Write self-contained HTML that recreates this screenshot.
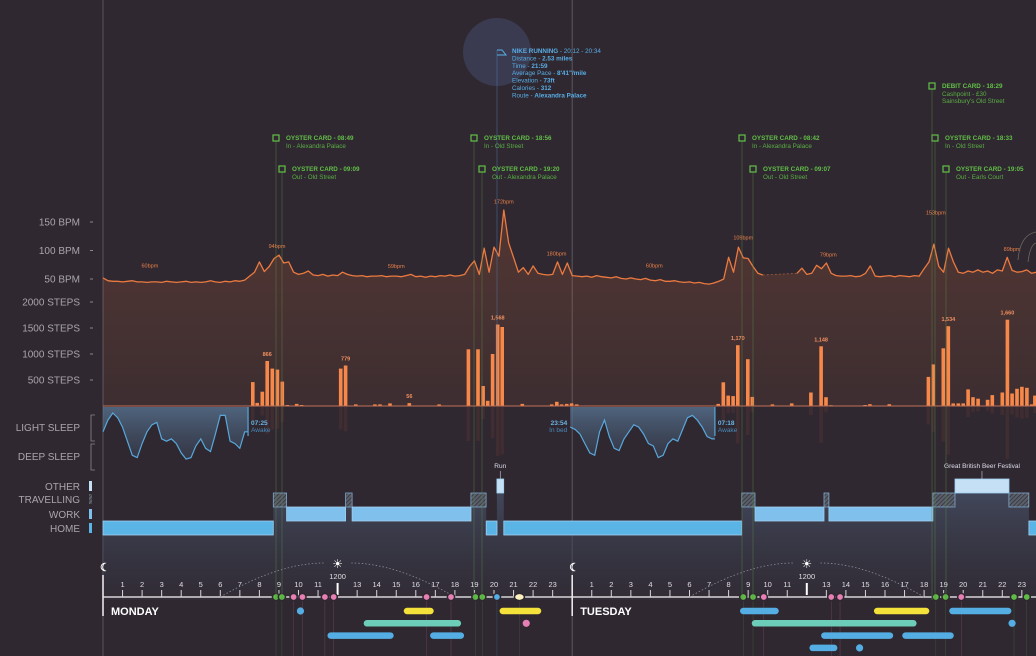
<!DOCTYPE html>
<html><head><meta charset="utf-8">
<style>
html,body{margin:0;padding:0;background:#2f2830;}
svg{display:block;font-family:"Liberation Sans Narrow","Liberation Sans",sans-serif;}
</style></head>
<body>
<svg id="c" width="1036" height="656" viewBox="0 0 1036 656">
<defs>
<linearGradient id="hrFill" x1="0" y1="0" x2="0" y2="1">
<stop offset="0" stop-color="#e0703c" stop-opacity="0.20"/>
<stop offset="1" stop-color="#e0703c" stop-opacity="0.08"/>
</linearGradient>
<linearGradient id="sleepFill" x1="0" y1="0" x2="0" y2="1">
<stop offset="0" stop-color="#5a7898" stop-opacity="0.75"/>
<stop offset="1" stop-color="#3c4a60" stop-opacity="0.45"/>
</linearGradient>
<linearGradient id="locFill" x1="0" y1="0" x2="0" y2="1">
<stop offset="0" stop-color="#465066" stop-opacity="0.9"/>
<stop offset="1" stop-color="#3a3b4c" stop-opacity="0.2"/>
</linearGradient>
<pattern id="hatch" width="3" height="3" patternUnits="userSpaceOnUse" patternTransform="rotate(45)">
<rect width="3" height="3" fill="#5a5f6a"/><line x1="0" y1="0" x2="0" y2="3" stroke="#2e2e36" stroke-width="1.4"/>
</pattern>
</defs>
<rect width="1036" height="656" fill="#2f2830"/>
<g id="left-axis" font-size="10" fill="#a9a5ab" text-anchor="end"></g>
<g id="plot"></g>
</svg>
<script>
// ---------- DATA ----------
const hrTicks = [150, 100, 50];
const stepTicks = [2000, 1500, 1000, 500];
// heart rate, quarter-hour bins from Monday 00:00 (null = no data)
const heartRate = [
52,47,46,46, 45,46,47,45, 45,44,45,45, 44,46,45,44, 45,46,44,45, 44,45,47,45, 44,46,45,47, 46,48,55,62,
80,63,72,86, 92,78,80,62, 58,60,64,57, 56,58,55,57, 56,62,58,56, 55,56,54,55, 55,56,54,55, 55,54,56,58,
54,55,53,55, 54,56,55,57, 55,56,58,72, 82,58,104,62, 106,90,171,113, 88,62,70,58, 73,60,58,57, 58,80,58,78,
56,55,54,55, 53,56,54,53, 52,54,51,50, 52,50,49,51, 48,47,49,46, 46,47,45,44, 45,43,44,42, 41,43,46,50,
88,62,106,87, 86,72,60,57, null,null,null,null, null,null,60,69, 58,60,74,68, 78,60,56,55, 55,56,54,55, 60,73,55,54,
55,56,54,56, 55,54,56,55, 68,80,111,72, 62,104,80,62, 60,64,62,66, 62,64,60,66, 64,88,65,62, 63,66,60,62
];
const hrLabels = [[2.4,'60bpm'],[8.9,'94bpm'],[15.0,'59bpm'],[20.5,'172bpm'],[23.2,'180bpm'],[28.2,'60bpm'],[32.75,'109bpm'],[37.1,'79bpm'],[42.6,'153bpm'],[46.5,'89bpm']];
const hrLabelVals = [60,94,59,172,81,60,109,79,153,89];
// steps: [hour, steps]
const steps = [
[7.66,460],[7.89,60],[8.15,275],[8.40,866],[8.66,720],[8.92,700],[9.17,470],[9.43,20],[9.91,40],[10.16,20],[10.68,10],
[12.16,720],[12.41,779],[12.93,30],[13.91,30],[14.17,30],[14.68,50],[15.67,56],[17.19,30],
[18.69,1090],[19.18,1090],[19.44,385],[19.68,100],[19.93,1000],[20.19,1568],[20.42,1520],[20.68,10],[21.45,40],
[22.95,30],[23.21,80],[23.46,30],[23.72,40],[23.97,50],[24.23,30],
[31.47,40],[31.73,455],[31.98,200],[32.23,190],[32.47,1170],[32.98,900],[33.21,175],[34.24,30],[35.23,50],[35.48,10],
[36.21,260],[36.73,1148],[36.98,170],[37.24,15],[38.98,20],[39.23,35],[40.22,35],
[42.22,560],[42.47,800],[42.98,1110],[43.24,1534],[43.49,50],[43.75,50],[44.0,50],[44.25,320],[44.5,170],[44.76,140],
[45.25,120],[45.49,210],[46.0,260],[46.26,1660],[46.5,240],[46.75,330],[47.0,370],[47.26,350],[47.5,30],[47.67,200]
];
const stepLabels = [[8.40,'866'],[12.41,'779'],[15.67,'56'],[20.19,'1,568'],[32.47,'1,170'],[36.73,'1,148'],[43.24,'1,534'],[46.26,'1,660']];
// sleep level 0 (deep) .. 100 (light), quarter-hour samples
const sleepMonStart = 0;
const sleepMon = [60,85,100,90,70,40,10,5,35,60,75,80,45,40,45,35,15,2,5,30,45,25,18,55,95,95,40,35,25,60];
const sleepMonEnd = 7.42;
const sleepTueStart = 23.9;
const sleepTue = [70,65,55,35,15,10,60,85,50,25,20,45,60,75,70,55,35,30,5,10,35,45,40,65,90,95,85,70,50,45];
const sleepTueEnd = 31.3;
// location segments [start, end, level] 0 home,1 work,2 travelling,3 other
const locSegments = [
[0,8.71,0],[8.71,9.39,2],[9.39,12.41,1],[12.41,12.74,2],[12.74,18.82,1],[18.82,19.6,2],[19.6,20.15,0],[20.15,20.5,3],[20.5,32.67,0],
[32.67,33.35,2],[33.35,36.88,1],[36.88,37.13,2],[37.13,42.45,1],[42.45,43.58,2],[43.58,46.34,3],[46.34,47.36,2],[47.36,48.2,0]
];
// timeline dots [hour, colour]
const dotHours = [8.85,9.15,9.75,10.2,11.35,11.8,16.55,17.8,19.05,19.4,20.15,21.3, 32.75,33.25,33.8,37.25,37.7,42.6,43.1,43.9,46.6,47.25];
const dotKinds = ['g','g','p','p','p','p','p','p','g','g','b','y', 'g','g','p','p','p','g','g','p','g','g'];
// activity bars [start, end, row, colour] (end==start -> dot)
const actStart = [10.1,15.55,20.45,13.5,21.65,11.65,16.9, 32.75,39.6,43.45,33.35,46.5,36.9,41.05,36.3,38.7];
const actEnd   = [10.1,16.75,22.25,18.15,21.65,14.7,18.3, 34.4,42.1,46.3,41.45,46.5,40.25,43.35,37.4,38.7];
const actRow   = [0,0,0,1,1,2,2, 0,0,0,1,1,2,2,3,3];
const actKind  = ['b','y','y','t','p','b','b', 'b','y','b','t','b','b','b','b','b'];
const hourTicks = [1,2,3,4,5,6,7,8,9,10,11,13,14,15,16,17,18,19,20,21,22,23];

// ---------- SCALES ----------
const X0 = 103, HW = 19.55;
const x = h => X0 + h*HW;
const yHR = b => 279 - (b-50)*0.57;
const yST = s => 406 - s*0.052;
const ySL = v => 460 - v*0.47;
const laneTop = [521,507,493,479];
const AXY = 597;
const col = {g:'#5dbb46',p:'#e77fb4',b:'#54aee4',y:'#f4e13a',t:'#6ccdb8'};

const svg = document.getElementById('c');
const plot = document.getElementById('plot');
const NS = 'http://www.w3.org/2000/svg';
function mk(tag, attrs, parent){const e=document.createElementNS(NS,tag);for(const k in attrs)e.setAttribute(k,attrs[k]);(parent||plot).appendChild(e);return e;}
function txt(s, attrs, parent){const e=mk('text',attrs,parent);e.textContent=s;return e;}

// ---------- LEFT AXIS ----------
const la = document.getElementById('left-axis');
hrTicks.forEach(b=>{
  const t=txt(b+' BPM',{x:80,y:yHR(b)+3.5},la);
  
  
  mk('line',{x1:90,x2:93,y1:yHR(b),y2:yHR(b),stroke:'#8a8590'},la);
});
stepTicks.forEach(s=>{
  const t=txt(s+' STEPS',{x:80,y:yST(s)+3.5},la);
  
  
  mk('line',{x1:90,x2:93,y1:yST(s),y2:yST(s),stroke:'#8a8590'},la);
});
[['LIGHT SLEEP',431],['DEEP SLEEP',460]].forEach(d=>{
  const t=txt(d[0],{x:80,y:d[1]},la);
  
  
});
mk('path',{d:'M95 415 H91 V441 H95 M95 444 H91 V470 H95',fill:'none',stroke:'#8a8590','stroke-width':0.8},la);
[['OTHER',490,'#c5e0f5'],['TRAVELLING',503,'url(#hatch)'],['WORK',518,'#7fc0ec'],['HOME',532,'#5ab4e6']].forEach((d,i)=>{
  const t=txt(d[0],{x:80,y:d[1]},la);
  
  
  const r=mk('rect',{x:89,y:d[1]-9,width:3,height:10,fill:d[2]},la);
  
  
});

// ---------- DAY LINES ----------
[0,24].forEach(h=>{
  const l=mk('line',{x1:x(h),x2:x(h),y1:0,y2:656,stroke:'#5a5560','stroke-width':1});
  
  
});

// ---------- HEART RATE ----------
function hrSegments(){
  const segs=[];let cur=[];
  heartRate.forEach((v,i)=>{ if(v===null){ if(cur.length){segs.push(cur);cur=[];} } else cur.push([x(i/4),yHR(v)]); });
  if(cur.length)segs.push(cur);
  return segs;
}
const segs = hrSegments();
const allPts = segs.flat();
let area = 'M'+allPts[0][0]+' '+yST(0)+' '+allPts.map(p=>'L'+p[0].toFixed(1)+' '+p[1].toFixed(1)).join(' ')+' L'+allPts[allPts.length-1][0]+' '+yST(0)+'Z';
const hrA = mk('path',{d:area,fill:'url(#hrFill)'});


segs.forEach((s,i)=>{
  const p=mk('path',{d:'M'+s.map(q=>q[0].toFixed(1)+' '+q[1].toFixed(1)).join(' L'),fill:'none',stroke:'#ec7a40','stroke-width':1.3,'stroke-linejoin':'round'});
  
  
  if(i<segs.length-1){
    const a=s[s.length-1],b=segs[i+1][0];
    const g=mk('line',{x1:a[0],y1:a[1],x2:b[0],y2:b[1],stroke:'#ec7a40','stroke-width':0.8,'stroke-dasharray':'2 2',opacity:0.6});
    
    
  }
});
hrLabels.forEach((d,i)=>{
  const t=txt(d[1],{x:x(d[0]),y:yHR(hrLabelVals[i])-6,'font-size':5.5,fill:'#e8804a','text-anchor':'middle'});
  
  
});

// ---------- STEPS ----------
steps.forEach(d=>{
  const r=mk('rect',{x:(x(d[0])-1.8).toFixed(1),y:yST(d[1]).toFixed(1),width:3.6,height:(yST(0)-yST(d[1])).toFixed(1),fill:'#f7884a'});
  
  
  if(d[1]>100){
    const rf=mk('rect',{x:(x(d[0])-1.8).toFixed(1),y:yST(0)+1,width:3.6,height:((yST(0)-yST(d[1]))*0.6).toFixed(1),fill:'#8a4a3a',opacity:0.18});
    
    
  }
});
const bl=mk('line',{x1:X0,x2:1036,y1:yST(0),y2:yST(0),stroke:'#c07058','stroke-width':1});


stepLabels.forEach(d=>{
  const v=steps.find(s=>s[0]===d[0]);
  const t=txt(d[1],{x:x(d[0]),y:yST(v?v[1]:0)-5,'font-size':5.5,fill:'#f09060','text-anchor':'middle','font-weight':'bold'});
  
  
});

// ---------- SLEEP ----------
function sleepPath(start, vals, end){
  const pts = vals.map((v,i)=>[x(start+i*0.25),ySL(v)]);
  pts.push([x(end),ySL(vals[vals.length-1])]);
  return pts;
}
[[sleepMonStart,sleepMon,sleepMonEnd],[sleepTueStart,sleepTue,sleepTueEnd]].forEach(s=>{
  const pts=sleepPath(s[0],s[1],s[2]);
  const line='M'+pts.map(p=>p[0].toFixed(1)+' '+p[1].toFixed(1)).join(' L');
  const bg=mk('path',{d:'M'+x(s[0])+' 407 L'+pts.map(p=>p[0].toFixed(1)+' '+p[1].toFixed(1)).join(' L')+' L'+x(s[2])+' 407 Z',fill:'url(#sleepFill)'});
  
  
  const l=mk('path',{d:line,fill:'none',stroke:'#58a8dc','stroke-width':1.2});
  
  
  const e=mk('line',{x1:x(s[2]),x2:x(s[2]),y1:407,y2:436,stroke:'#58a8dc','stroke-width':1.2});
  
  
});
[[sleepMonEnd,'07:25','Awake','start',3],[sleepTueStart,'23:54','In bed','end',-3],[sleepTueEnd,'07:18','Awake','start',3]].forEach(d=>{
  const t=txt(d[1],{x:x(d[0])+d[4],y:425,'font-size':6.5,fill:'#6ab4e4','font-weight':'bold','text-anchor':d[3]});
  
  
  const t2=txt(d[2],{x:x(d[0])+d[4],y:432,'font-size':6.5,fill:'#4a88b8','text-anchor':d[3]});
  
  
});

// ---------- LOCATION ----------
let lp='M'+x(0)+' 600';
locSegments.forEach(s=>{ lp+=' L'+x(s[0]).toFixed(1)+' '+laneTop[s[2]]+' L'+x(s[1]).toFixed(1)+' '+laneTop[s[2]]; });
lp+=' L1036 600 Z';
const la2=mk('path',{d:lp,fill:'url(#locFill)'});


const lfill=['#5ab4e6','#7fc0ec','url(#hatch)','#c5e0f5'];
locSegments.forEach(s=>{
  const r=mk('rect',{x:x(s[0]).toFixed(1),y:laneTop[s[2]],width:(x(s[1])-x(s[0])).toFixed(1),height:14,fill:lfill[s[2]],stroke:s[2]===2?'#7fa8cc':'#9fd0f0','stroke-width':0.8});
  
  
});
const runT=txt('Run',{x:x(20.32),y:468,'font-size':6.5,fill:'#dde','text-anchor':'middle'});


mk('line',{x1:x(20.32),x2:x(20.32),y1:471,y2:479,stroke:'#ccd','stroke-width':0.6});
const gbT=txt('Great British Beer Festival',{x:x(44.96),y:468,'font-size':6.5,fill:'#dde','text-anchor':'middle'});


mk('line',{x1:x(44.96),x2:x(44.96),y1:471,y2:479,stroke:'#ccd','stroke-width':0.6});

// ---------- TIMELINE ----------
[0,24].forEach(d=>{
  const ax=mk('line',{x1:x(d),x2:x(d+24),y1:AXY,y2:AXY,stroke:'#d8d4d8','stroke-width':1.6});
  
  
  mk('line',{x1:x(d),x2:x(d),y1:575,y2:616,stroke:'#e8e4e8','stroke-width':1.6});
  const m=txt('☾',{x:x(d)-3,y:571,'font-size':11,fill:'#fff','font-weight':'bold'});
  
  
  const dl=txt(d===0?'MONDAY':'TUESDAY',{x:x(d)+8,y:615,'font-size':11,fill:'#fff','font-weight':'bold','font-family':'Liberation Sans'});
  
  
  hourTicks.forEach(h=>{
    mk('line',{x1:x(d+h),x2:x(d+h),y1:590,y2:AXY,stroke:'#d8d4d8','stroke-width':1});
    const t=txt(String(h),{x:x(d+h),y:587,'font-size':7.5,fill:'#e0dce0','text-anchor':'middle'});
    
    
  });
  mk('line',{x1:x(d+12),x2:x(d+12),y1:583,y2:595,stroke:'#fff','stroke-width':2});
  const nt=txt('1200',{x:x(d+12),y:579,'font-size':7.5,fill:'#e0dce0','text-anchor':'middle'});
  
  
  const su=txt('☀',{x:x(d+12),y:568,'font-size':12,fill:'#fff','text-anchor':'middle'});
  
  
  const arc=mk('path',{d:`M${x(d+6)} 597 Q${x(d+9)} 563 ${x(d+11.3)} 563 M${x(d+12.7)} 563 Q${x(d+15)} 563 ${x(d+18)} 597`,fill:'none',stroke:'#8a8a98','stroke-width':0.8,'stroke-dasharray':'1.5 2'});
  
  
});
dotHours.forEach((h,i)=>{
  const k=dotKinds[i];
  mk('line',{x1:x(h),x2:x(h),y1:AXY+4,y2:656,stroke:k==='y'?'#887':col[k],'stroke-width':0.5,opacity:0.3});
  const d = k==='y' ? mk('ellipse',{cx:x(h),cy:AXY,rx:5,ry:3.6,fill:'#fdf0c0',stroke:'#2f2830','stroke-width':1.5})
                    : mk('circle',{cx:x(h),cy:AXY,r:3.6,fill:col[k],stroke:'#2f2830','stroke-width':1.5});
  
  
});
actStart.forEach((s,i)=>{
  const y=611+actRow[i]*12.3, c=col[actKind[i]];
  let e;
  if(actEnd[i]===s) e=mk('circle',{cx:x(s),cy:y,r:3.6,fill:c});
  else e=mk('line',{x1:x(s),x2:x(actEnd[i]),y1:y,y2:y,stroke:c,'stroke-width':6.5,'stroke-linecap':'round'});
  
  
});

// ---------- ANNOTATIONS ----------
const runCircle=mk('circle',{cx:497,cy:52,r:34,fill:'#3a3b50'});


mk('line',{x1:497,x2:497,y1:50,y2:406,stroke:'#4a78a8','stroke-width':0.7,opacity:0.7});
mk('path',{d:'M497 50 H502 L506 55 H497',fill:'none',stroke:'#5ab0e8','stroke-width':1});
const nikeLines=[['NIKE RUNNING',' - 20:12 - 20:34'],['Distance - ','2.53 miles'],['Time - ','21:59'],['Average Pace - ','8\'41"/mile'],['Elevation - ','73ft'],['Calories - ','312'],['Route - ','Alexandra Palace']];
nikeLines.forEach((l,i)=>{
  const t=mk('text',{x:512,y:53+i*7.4,'font-size':6.3,fill:'#58aee6'});
  
  
  const a=document.createElementNS(NS,'tspan');a.textContent=l[0];if(i===0)a.setAttribute('font-weight','bold');t.appendChild(a);
  const b=document.createElementNS(NS,'tspan');b.textContent=l[1];if(i>0)b.setAttribute('font-weight','bold');t.appendChild(b);
});
const cards=[[276,138,'OYSTER CARD','08:49','In - Alexandra Palace'],[282,169,'OYSTER CARD','09:09','Out - Old Street'],
[474,138,'OYSTER CARD','18:56','In - Old Street'],[482,169,'OYSTER CARD','19:20','Out - Alexandra Palace'],
[742,138,'OYSTER CARD','08:42','In - Alexandra Palace'],[753,169,'OYSTER CARD','09:07','Out - Old Street'],
[935,138,'OYSTER CARD','18:33','In - Old Street'],[946,169,'OYSTER CARD','19:05','Out - Earls Court'],
[932,86,'DEBIT CARD','18:29','Cashpoint - £30']];
cards.forEach(c=>{
  mk('line',{x1:c[0],x2:c[0],y1:c[1]+3,y2:600,stroke:'#5a8a48','stroke-width':0.7,opacity:0.6});
  const b=mk('rect',{x:c[0]-3,y:c[1]-3,width:6,height:6,fill:'#2f2830',stroke:'#62c048','stroke-width':1.2});
  
  
  const t=mk('text',{x:c[0]+10,y:c[1]+2,'font-size':6.3,fill:'#62c048'});
  
  
  const a=document.createElementNS(NS,'tspan');a.setAttribute('font-weight','bold');a.textContent=c[2]+' - '+c[3];t.appendChild(a);
  const t2=txt(c[4],{x:c[0]+10,y:c[1]+10,'font-size':6.3,fill:'#5aae44'});
  
  
});
const t3=txt("Sainsbury's Old Street",{x:942,y:103,'font-size':6.3,fill:'#5aae44'});


const arcR=mk('path',{d:'M1018 260 Q1020 235 1036 232 M1028 262 Q1030 245 1036 243',fill:'none',stroke:'#6a6a60','stroke-width':0.8});


</script>
</body></html>
